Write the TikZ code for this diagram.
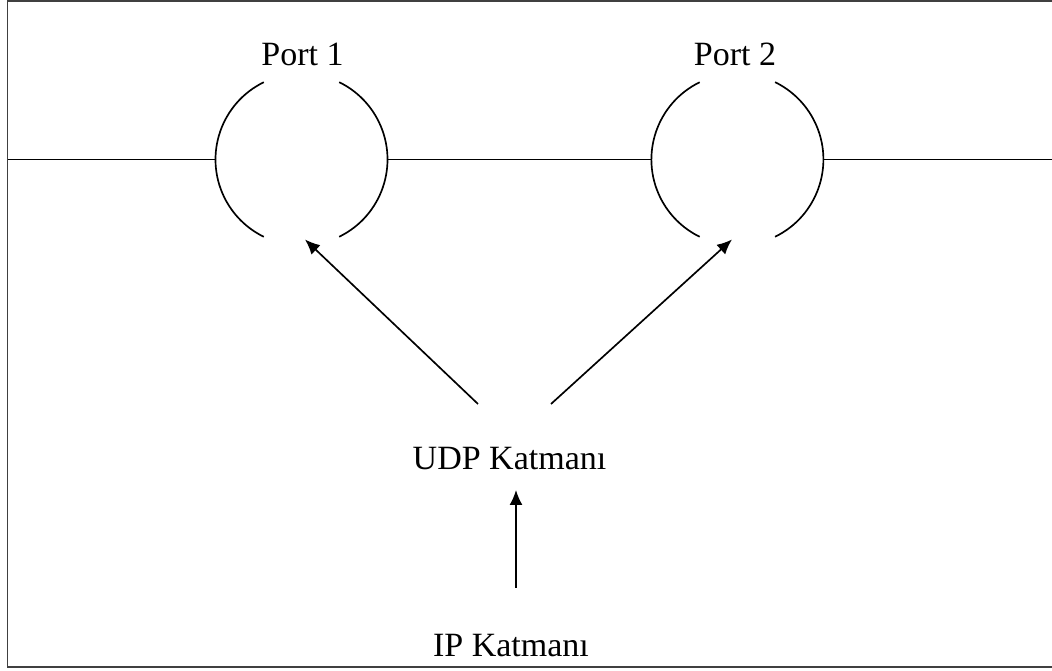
\documentclass[tikz,border=0pt]{standalone}
\usepackage{fontspec}
\setmainfont{Liberation Serif}
\usetikzlibrary{arrows.meta}

\begin{document}
\begin{tikzpicture}[x=0.02cm,y=0.02cm,
    wire/.style={line width=0.95pt},
    port/.style={circle,inner sep=0pt,outer sep=0pt,minimum size=3.44cm},
    lbl/.style={inner sep=0pt,anchor=base,font=\fontsize{19.35}{23}\selectfont},
    link/.style={wire,-{Latex[length=0.3cm,width=0.26cm]}}]
          \useasboundingbox (0,0) rectangle (1052,671);
          % frame
          \draw[line width=1.1pt,black!75] (1060,670) -- (7.5,670) -- (7.5,4) -- (1060,4);

          % ports
          \node[port] (p1) at (301.5,511.5) {};
          \node[port] (p2) at (737.4,511.5) {};
          \node[lbl] (l1) at (302.5,605) {Port 1};
          \node[lbl] (l2) at (735,605) {Port 2};

          % layers
          \node[lbl] (udp) at (509.5,201) {UDP Katmanı};
          \node[lbl] (ip) at (511,14) {IP Katmanı};

          % line through the ports
          \coordinate (wl) at (8,511.5);
          \coordinate (wr) at (1052,511.5);
          \draw[wire] (wl) -- (p1.west) (p1.east) -- (p2.west) (p2.east) -- (wr);

          % port arcs
          \foreach \p in {p1,p2} {
            \draw[wire] (\p.116) arc[start angle=116,end angle=244,radius=86];
            \draw[wire] (\p.-64) arc[start angle=-64,end angle=64,radius=86];
          }

          % arrows
          \draw[link] ([shift={(-31.5,66)}]udp.base) -- ([shift={(3.5,6)}]p1.south);
          \draw[link] ([shift={(41.5,66)}]udp.base) -- ([shift={(-5.4,6)}]p2.south);
          \draw[link] ([shift={(5,69)}]ip.base) -- ([shift={(6.5,-20)}]udp.base);
        \end{tikzpicture}
\end{document}
